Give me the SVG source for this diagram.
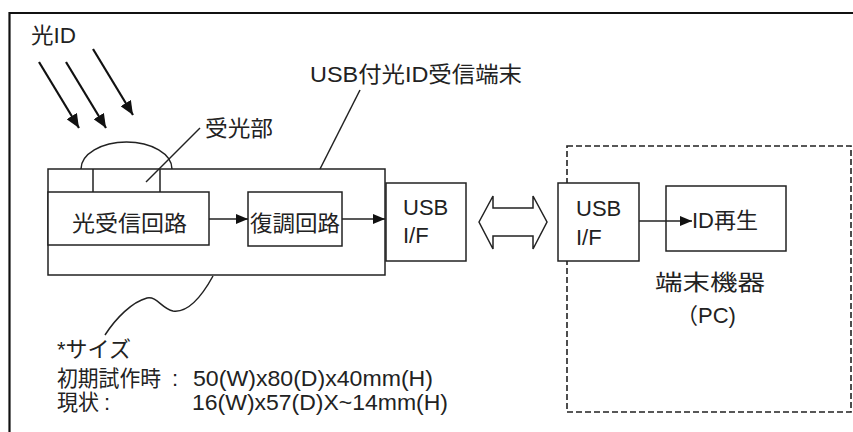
<svg xmlns="http://www.w3.org/2000/svg" width="853" height="432" viewBox="0 0 853 432">
  <style>
    .t { font-family: "Liberation Sans", "Noto Sans CJK JP", sans-serif; font-size: 22px; fill: #222; }
    .box { fill: #fff; stroke: #222; stroke-width: 1.5; }
    .ln { fill: none; stroke: #222; stroke-width: 1.5; }
    .ray { fill: none; stroke: #111; stroke-width: 2.2; }
    .dash { fill: none; stroke: #222; stroke-width: 1.6; stroke-dasharray: 6 3; }
  </style>
  <defs>
    <marker id="head" viewBox="0 0 12 10" refX="12" refY="5" markerWidth="12" markerHeight="10" markerUnits="userSpaceOnUse" orient="auto">
      <path d="M0,0 L12,5 L0,10 Z" fill="#111"/>
    </marker>
    <marker id="rayhead" viewBox="0 0 14 12" refX="14" refY="6" markerWidth="14" markerHeight="12" markerUnits="userSpaceOnUse" orient="auto">
      <path d="M0,0 L14,6 L0,12 Z" fill="#111"/>
    </marker>
  </defs>

  <rect width="853" height="432" fill="#fff"/>

  <!-- outer frame (top and left edges) -->
  <path d="M9.5,432 V13 H853" fill="none" stroke="#111" stroke-width="2.2"/>

  <!-- terminal device enclosure (dashed) -->
  <g id="pc">
    <rect class="dash" x="567" y="146" width="284" height="266"/>
    <text class="t" x="655" y="290" textLength="110" lengthAdjust="spacingAndGlyphs">端末機器</text>
    <text class="t" x="676" y="323">（PC)</text>
  </g>

  <!-- USB light-ID receiver -->
  <g id="receiver">
    <rect class="box" x="48" y="169" width="337" height="106"/>
    <path class="ln" d="M93,169 V192 M160,169 V192"/>
    <path class="ln" d="M81,169 A45.5,27 0 0 1 172,169"/>
    <text class="t" x="310" y="82" textLength="212" lengthAdjust="spacingAndGlyphs">USB付光ID受信端末</text>
  </g>

  <g id="light-id">
    <text class="t" x="31" y="43" textLength="45" lengthAdjust="spacingAndGlyphs">光ID</text>
  </g>

  <g id="sensor-label">
    <text class="t" x="205" y="136" textLength="68" lengthAdjust="spacingAndGlyphs">受光部</text>
  </g>

  <g id="rx-circuit">
    <rect class="box" x="48" y="192" width="161" height="53"/>
    <text class="t" x="72" y="231" textLength="115" lengthAdjust="spacingAndGlyphs">光受信回路</text>
  </g>

  <g id="demod">
    <rect class="box" x="248" y="192" width="94" height="54"/>
    <text class="t" x="250" y="231" textLength="90" lengthAdjust="spacingAndGlyphs">復調回路</text>
  </g>

  <g id="usb-if-left">
    <rect class="box" x="386" y="183" width="80" height="78"/>
    <text class="t" x="403" y="215">USB</text>
    <text class="t" x="403" y="243">I/F</text>
  </g>

  <g id="usb-if-right">
    <rect class="box" x="558" y="183" width="81" height="78"/>
    <text class="t" x="576" y="216">USB</text>
    <text class="t" x="576" y="245">I/F</text>
  </g>

  <g id="id-play">
    <rect class="box" x="666" y="186" width="120" height="65"/>
    <text class="t" x="692" y="228">ID再生</text>
  </g>

  <g id="size-note">
    <text class="t" x="57" y="357">*サイズ</text>
    <text class="t" x="57" y="386" textLength="104" lengthAdjust="spacingAndGlyphs">初期試作時</text>
    <text class="t" x="172" y="386">:</text>
    <text class="t" x="193" y="386" textLength="240" lengthAdjust="spacingAndGlyphs">50(W)x80(D)x40mm(H)</text>
    <text class="t" x="57" y="410" textLength="42" lengthAdjust="spacingAndGlyphs">現状</text>
    <text class="t" x="104" y="410">:</text>
    <text class="t" x="192" y="410" textLength="256" lengthAdjust="spacingAndGlyphs">16(W)x57(D)X~14mm(H)</text>
  </g>

  <!-- connectors -->
  <g id="connectors">
    <!-- incoming light rays -->
    <line class="ray" x1="39" y1="62" x2="79" y2="128" marker-end="url(#rayhead)"/>
    <line class="ray" x1="66" y1="62" x2="106" y2="128" marker-end="url(#rayhead)"/>
    <line class="ray" x1="93" y1="49" x2="133" y2="115" marker-end="url(#rayhead)"/>
    <!-- leader lines -->
    <line class="ln" x1="146" y1="182" x2="200" y2="128"/>
    <line class="ln" x1="360" y1="90" x2="320" y2="169"/>
    <path class="ln" d="M213,276 C202,296 188,313 173,311 C162,309 157,296 147,298 C132,302 116,318 105,335"/>
    <!-- signal flow -->
    <line class="ln" x1="209" y1="219" x2="248" y2="219" marker-end="url(#head)"/>
    <line class="ln" x1="342" y1="219" x2="385" y2="219" marker-end="url(#head)"/>
    <line class="ln" x1="639" y1="221" x2="692" y2="221" marker-end="url(#head)"/>
    <!-- bidirectional USB link -->
    <polygon class="ln" points="479,222 493,196 493,208 533,208 533,196 547,222 533,249 533,236 493,236 493,249"/>
  </g>
</svg>
